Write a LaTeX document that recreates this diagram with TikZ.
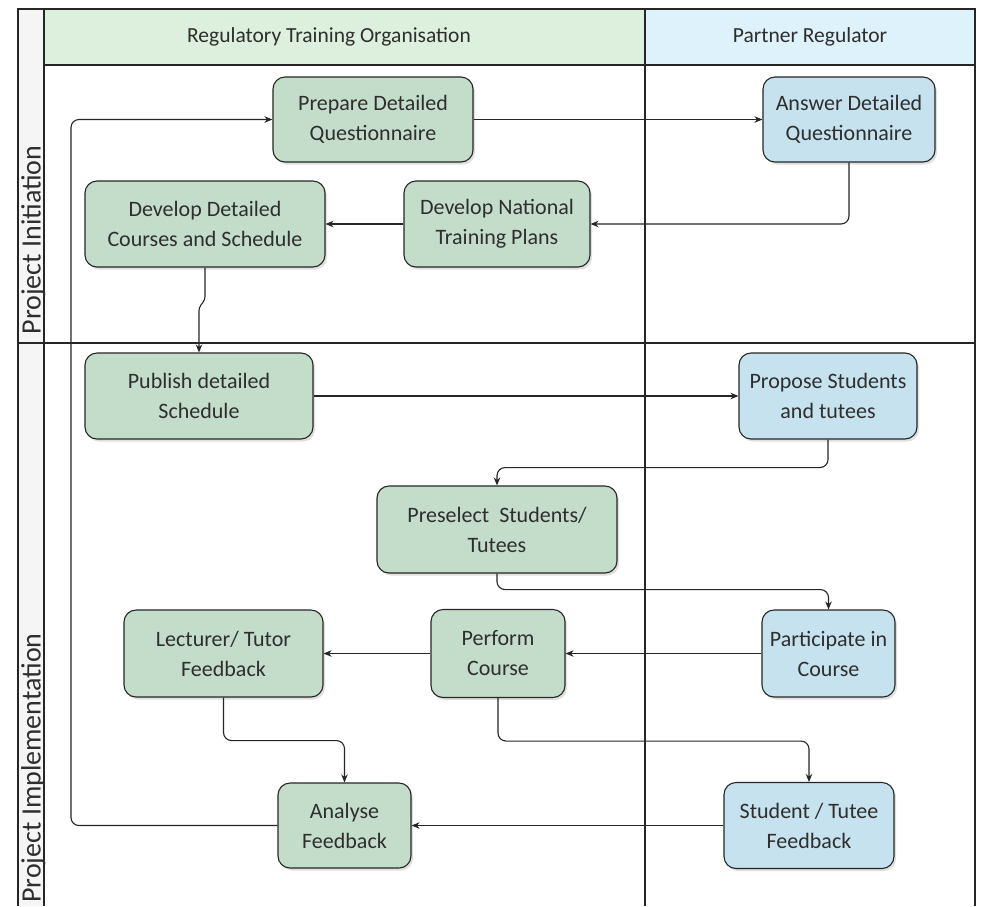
\documentclass[tikz,border=0pt]{standalone}
\usepackage{fontspec}
\setmainfont{Carlito}
\usetikzlibrary{arrows.meta,shadows,calc}
\definecolor{gfill}{HTML}{C4DDCA}
\definecolor{bfill}{HTML}{C6E2EE}
\definecolor{hgreen}{HTML}{DDF0DD}
\definecolor{hblue}{HTML}{DDF2FA}
\definecolor{lgray}{HTML}{F5F5F5}
\definecolor{txt}{HTML}{2E2E2E}
\definecolor{lin}{HTML}{262626}
\begin{document}
\begin{tikzpicture}[x=1pt,y=-1pt,
  box/.style={draw=lin, line width=1.1pt, rounded corners=12pt, align=center, text=txt,
    font=\fontsize{22}{30}\selectfont, inner sep=0pt,
    drop shadow={shadow xshift=2pt,shadow yshift=-2.5pt,opacity=0.25,fill=black!50}},
  gbox/.style={box, fill=gfill},
  bbox/.style={box, fill=bfill},
  conn/.style={draw=lin, line width=1.1pt, rounded corners=8pt, -{Stealth[length=8pt,width=6.5pt]}},
  frame/.style={draw=lin, line width=1.2pt},
  head/.style={text=txt, font=\fontsize{21.5}{25}\selectfont},
  phase/.style={text=txt, font=\fontsize{28}{32}\selectfont, rotate=90, anchor=base}]
\useasboundingbox (0,0) rectangle (983,906);
% backgrounds
\fill[white] (0,0) rectangle (983,906);
\fill[lgray] (18,9) rectangle (44,906);
\fill[hgreen] (44,9) rectangle (645,65);
\fill[hblue] (645,9) rectangle (975,65);
% frame lines
\draw[frame] (18,906) -- (18,9) -- (975,9) -- (975,906);
\draw[frame] (44,9) -- (44,906);
\draw[frame] (645,9) -- (645,906);
\draw[frame] (44,65) -- (975,65);
\draw[frame] (18,343) -- (975,343);
% headers
\node[head] (h1) at (329,37) {Regulatory Training Organisation};
\node[head] (h2) at (810,37) {Partner Regulator};
\node[phase] (p1) at (40.5,240) {Project Initiation};
\node[phase] (p2) at (40.5,768) {Project Implementation};
% nodes
\node[gbox, minimum width=200pt, minimum height=85pt] (prep) at (373,119.5) {Prepare Detailed\\Questionnaire};
\node[bbox, minimum width=172pt, minimum height=85pt] (ans) at (849,119.5) {Answer Detailed\\Questionnaire};
\node[gbox, minimum width=240pt, minimum height=86pt] (ddet) at (205,224) {Develop Detailed\\Courses and Schedule};
\node[gbox, minimum width=186pt, minimum height=86pt] (dnat) at (497,224) {Develop National\\Training Plans};
\node[gbox, minimum width=228pt, minimum height=86pt] (pub) at (199,396) {Publish detailed\\Schedule};
\node[bbox, minimum width=178pt, minimum height=86pt] (prop) at (828,396) {Propose Students\\and tutees};
\node[gbox, minimum width=240pt, minimum height=87pt] (pres) at (497,529.5) {Preselect~ Students/\\Tutees};
\node[gbox, minimum width=199pt, minimum height=87pt] (lect) at (223.5,653.5) {Lecturer/ Tutor\\Feedback};
\node[gbox, minimum width=134pt, minimum height=88pt] (perf) at (498,653.5) {Perform\\Course};
\node[bbox, minimum width=133pt, minimum height=87pt] (part) at (828.5,653.5) {Participate in\\Course};
\node[gbox, minimum width=133pt, minimum height=85pt] (ana) at (344.5,825.5) {Analyse\\Feedback};
\node[bbox, minimum width=170pt, minimum height=86pt] (stud) at (809,825.5) {Student / Tutee\\Feedback};
\coordinate (loop) at (71,119.5);
% connectors
\draw[conn] (prep.east) -- (ans.west);
\draw[conn] (ans.south) |- (dnat.east);
\draw[conn] (dnat.west) -- (ddet.east);
\draw[conn, rounded corners=3pt] (ddet.south) -- ++(0,32) -- ++(-6,8) -- (pub.north);
\draw[conn] (pub.east) -- (prop.west);
\draw[conn] (prop.south) -- ++(0,28) -| (pres.north);
\draw[conn] (pres.south) -- ++(0,16) -| (part.north);
\draw[conn] (part.west) -- (perf.east);
\draw[conn] (perf.west) -- (lect.east);
\draw[conn] (perf.south) -- ++(0,43) -| (stud.north);
\draw[conn] (lect.south) -- ++(0,43) -| (ana.north);
\draw[conn] (stud.west) -- (ana.east);
\draw[conn] (ana.west) -| (loop) -- (prep.west);
\end{tikzpicture}
\end{document}
